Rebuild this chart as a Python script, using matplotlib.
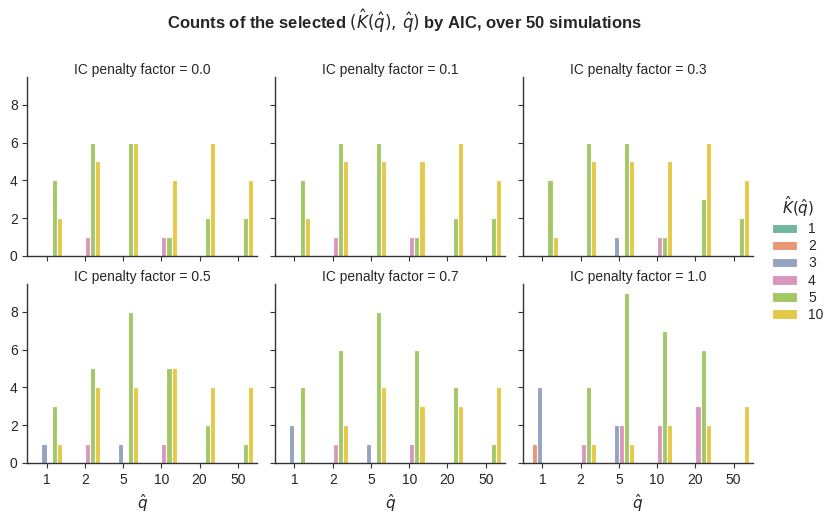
import matplotlib
matplotlib.use("Agg")
import matplotlib.pyplot as plt
import numpy as np
import seaborn as sns

sns.set_style("ticks")
plt.rcParams['font.family'] = ['Liberation Sans', 'DejaVu Sans']

# data
q_labels = ['1', '2', '5', '10', '20', '50']
k_levels = ['1', '2', '3', '4', '5', '10']
penalties = ['0.0', '0.1', '0.3', '0.5', '0.7', '1.0']

# counts[penalty] -> rows = K levels, cols = q categories
counts_00 = [[0, 0, 0, 0, 0, 0],
             [0, 0, 0, 0, 0, 0],
             [0, 0, 0, 0, 0, 0],
             [0, 1, 0, 1, 0, 0],
             [4, 6, 6, 1, 2, 2],
             [2, 5, 6, 4, 6, 4]]
counts_01 = [[0, 0, 0, 0, 0, 0],
             [0, 0, 0, 0, 0, 0],
             [0, 0, 0, 0, 0, 0],
             [0, 1, 0, 1, 0, 0],
             [4, 6, 6, 1, 2, 2],
             [2, 5, 5, 5, 6, 4]]
counts_03 = [[0, 0, 0, 0, 0, 0],
             [0, 0, 0, 0, 0, 0],
             [0, 0, 1, 0, 0, 0],
             [0, 0, 0, 1, 0, 0],
             [4, 6, 6, 1, 3, 2],
             [1, 5, 5, 5, 6, 4]]
counts_05 = [[0, 0, 0, 0, 0, 0],
             [0, 0, 0, 0, 0, 0],
             [1, 0, 1, 0, 0, 0],
             [0, 1, 0, 1, 0, 0],
             [3, 5, 8, 5, 2, 1],
             [1, 4, 4, 5, 4, 4]]
counts_07 = [[0, 0, 0, 0, 0, 0],
             [0, 0, 0, 0, 0, 0],
             [2, 0, 1, 0, 0, 0],
             [0, 1, 0, 1, 0, 0],
             [4, 6, 8, 6, 4, 1],
             [0, 2, 4, 3, 3, 4]]
counts_10 = [[0, 0, 0, 0, 0, 0],
             [1, 0, 0, 0, 0, 0],
             [4, 0, 2, 0, 0, 0],
             [0, 1, 2, 2, 3, 0],
             [0, 4, 9, 7, 6, 0],
             [0, 1, 1, 2, 2, 3]]
all_counts = [counts_00, counts_01, counts_03, counts_05, counts_07, counts_10]

palette = [sns.desaturate(c, 0.75) for c in sns.color_palette("Set2", 6)]

fig, axes = plt.subplots(2, 3, figsize=(8.3, 5.16), dpi=100, sharex=True, sharey=True)
fig.subplots_adjust(left=0.033, right=0.907, top=0.85, bottom=0.103, wspace=0.08, hspace=0.16)

x = np.arange(len(q_labels))
n_hue = len(k_levels)
w = 0.8 / n_hue
handles = []
for ax, pen, cnt in zip(axes.flat, penalties, all_counts):
    cnt = np.array(cnt)
    for i, k in enumerate(k_levels):
        off = -0.4 + w * (i + 0.5)
        b = ax.bar(x + off, cnt[i], width=w, color=palette[i],
                   edgecolor='white', linewidth=0.8, label=k)
        if ax is axes.flat[0]:
            handles.append(b)
    ax.set_title(f"IC penalty factor = {pen}", fontsize=10, pad=2)
    ax.set_xticks(x)
    ax.set_xticklabels(q_labels)
    ax.set_yticks([0, 2, 4, 6, 8])
    ax.set_ylim(0, 9.45)
    ax.set_xlim(-0.5, 5.5)
    ax.tick_params(labelsize=10, length=3.5, width=0.8, color='#333333')
    for s in ['left', 'bottom']:
        ax.spines[s].set_color('#333333')
        ax.spines[s].set_linewidth(1.0)
    sns.despine(ax=ax)

for ax in axes[1]:
    ax.set_xlabel(r"$\hat{q}$", fontsize=11)

fig.legend(handles, k_levels, title=r"$\hat{K}(\hat{q})$", loc='center left',
           bbox_to_anchor=(0.915, 0.5), frameon=False, fontsize=10,
           title_fontsize=11, handlelength=1.8, labelspacing=0.22)

fig.suptitle(r"Counts of the selected $(\hat{K}(\hat{q}),\,\hat{q})$ by AIC, over 50 simulations",
             fontsize=12, fontweight='bold', x=0.487, y=0.985)

fig.savefig("out.png", dpi=100)
